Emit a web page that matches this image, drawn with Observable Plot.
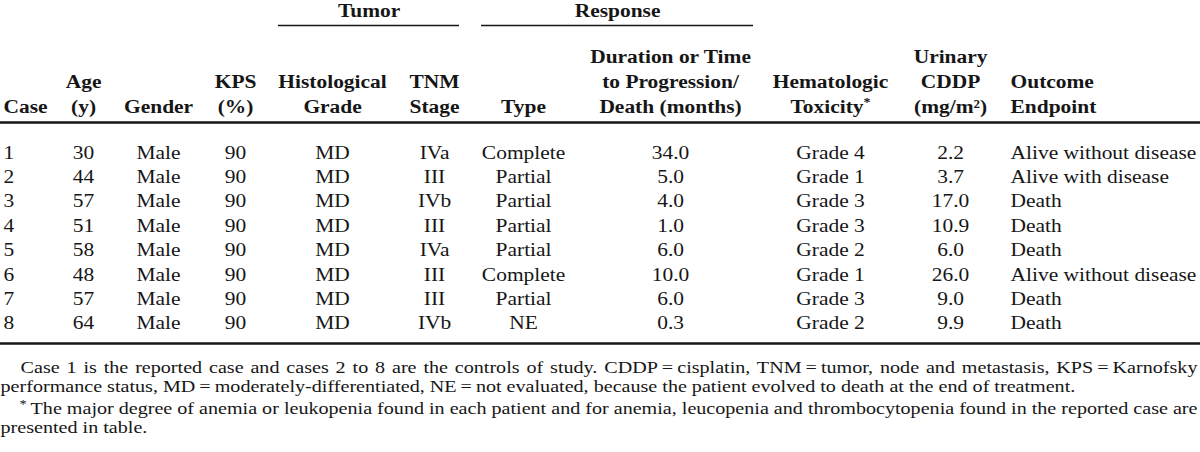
<!DOCTYPE html>
<html>
<head>
<meta charset="utf-8">
<script src="https://cdn.jsdelivr.net/npm/d3@7"></script>
<script src="https://cdn.jsdelivr.net/npm/@observablehq/plot@0.6"></script>
<style>
  html, body { margin: 0; padding: 0; background: #fff; }
  #chart svg { display: block; }
</style>
</head>
<body>
<div id="chart"></div>
<script>
// ---------- data ----------
const cases = ["1", "2", "3", "4", "5", "6", "7", "8"];
const ages = [30, 44, 57, 51, 58, 48, 57, 64];
const genders = ["Male", "Male", "Male", "Male", "Male", "Male", "Male", "Male"];
const kps = [90, 90, 90, 90, 90, 90, 90, 90];
const histologicalGrades = ["MD", "MD", "MD", "MD", "MD", "MD", "MD", "MD"];
const tnmStages = ["IVa", "III", "IVb", "III", "IVa", "III", "III", "IVb"];
const responseTypes = ["Complete", "Partial", "Partial", "Partial", "Partial", "Complete", "Partial", "NE"];
const durations = [34.0, 5.0, 4.0, 1.0, 6.0, 10.0, 6.0, 0.3];
const toxicities = ["Grade 4", "Grade 1", "Grade 3", "Grade 3", "Grade 2", "Grade 1", "Grade 3", "Grade 2"];
const urinaryCddp = [2.2, 3.7, 17.0, 10.9, 6.0, 26.0, 9.0, 9.9];
const outcomes = ["Alive without disease", "Alive with disease", "Death", "Death", "Death",
                  "Alive without disease", "Death", "Death"];

const headerLabels = ["Case", "Age\n(y)", "Gender", "KPS\n(%)", "Histological\nGrade", "TNM\nStage", "Type",
  "Duration or Time\nto Progression/\nDeath (months)", "Hematologic\nToxicity", "Urinary\nCDDP\n(mg/m²)",
  "Outcome\nEndpoint"];
const groupLabels = ["Tumor", "Response"];

const footLines = [
  "Case 1 is the reported case and cases 2 to 8 are the controls of study. CDDP\u2009=\u2009cisplatin, TNM\u2009=\u2009tumor, node and metastasis, KPS\u2009=\u2009Karnofsky",
  "performance status, MD\u2009=\u2009moderately-differentiated, NE\u2009=\u2009not evaluated, because the patient evolved to death at the end of treatment.",
  "The major degree of anemia or leukopenia found in each patient and for anemia, leucopenia and thrombocytopenia found in the reported case are",
  "presented in table."
];

// ---------- layout (reference pixel coordinates) ----------
const W = 1200, H = 452;
const stretch = 1.1;                 // horizontal glyph stretch of the reference
const colX = [3, 83, 158, 235, 332, 434, 523, 670, 830, 950, 1010];
const colAnchor = ["start", "middle", "middle", "middle", "middle", "middle", "middle", "middle", "middle", "middle", "start"];
const groupSpans = [[278, 459], [481, 753]];
const groupLabelY = 16, groupRuleY = 25;
const headerBaseY = 112, headerLine = 25, headerRuleY = 122;
const row0Y = 158, rowStep = 24.4, bottomRuleY = 343;
const footY = [372, 391, 413, 432];
const footX = [20, 0, 30, 0];
const footEnd = [1197, null, 1197, null];
const bodySize = 19.5, footSize = 17.5;
const ink = "#161616";

const fmt1 = d3.format(".1f");
const columnValues = [cases, ages, genders, kps, histologicalGrades, tnmStages, responseTypes,
  durations.map(fmt1), toxicities, urinaryCddp.map(fmt1), outcomes];

const headers = headerLabels.map((label, j) => ({label, x: colX[j], y: headerBaseY, anchor: colAnchor[j]}));
const cells = [];
columnValues.forEach((vals, j) => vals.forEach((v, i) =>
  cells.push({text: String(v), x: colX[j], y: row0Y + i * rowStep, anchor: colAnchor[j]})));
const groups = groupLabels.map((label, k) => ({
  label, x1: groupSpans[k][0], x2: groupSpans[k][1], cx: (groupSpans[k][0] + groupSpans[k][1]) / 2
}));
const foot = footLines.map((t, i) => ({text: t, x: footX[i], y: footY[i]}));

const byAnchor = (arr, a) => arr.filter(d => d.anchor === a);

const svg = Plot.plot({
  width: Math.round(W / stretch),
  height: H,
  margin: 0,
  x: {domain: [0, W], axis: null},
  y: {domain: [0, H], range: [0, H], axis: null},
  style: {fontFamily: "'Liberation Serif', 'Times New Roman', serif", background: "#fff", color: ink, overflow: "visible"},
  marks: [
    // group headers + spanning rules
    Plot.text(groups, {x: "cx", y: groupLabelY, text: "label", lineAnchor: "bottom",
      fontWeight: "bold", fontSize: bodySize, fill: ink}),
    Plot.ruleY(groups, {y: groupRuleY, x1: "x1", x2: "x2", stroke: ink, strokeWidth: 1.3}),
    // column headers
    Plot.text(byAnchor(headers, "middle"), {x: "x", y: "y", text: "label", textAnchor: "middle",
      lineAnchor: "bottom", lineHeight: headerLine / bodySize, fontWeight: "bold", fontSize: bodySize, fill: ink}),
    Plot.text(byAnchor(headers, "start"), {x: "x", y: "y", text: "label", textAnchor: "start",
      lineAnchor: "bottom", lineHeight: headerLine / bodySize, fontWeight: "bold", fontSize: bodySize, fill: ink}),
    Plot.ruleY([headerRuleY], {stroke: ink, strokeWidth: 2.3}),
    // body cells
    Plot.text(byAnchor(cells, "middle"), {x: "x", y: "y", text: "text", textAnchor: "middle",
      lineAnchor: "bottom", fontSize: bodySize, fill: ink}),
    Plot.text(byAnchor(cells, "start"), {x: "x", y: "y", text: "text", textAnchor: "start",
      lineAnchor: "bottom", fontSize: bodySize, fill: ink}),
    Plot.ruleY([bottomRuleY], {stroke: ink, strokeWidth: 2.3}),
    // footnotes
    Plot.text(foot, {x: "x", y: "y", text: "text", textAnchor: "start", lineAnchor: "bottom",
      fontSize: footSize, fill: ink}),
    Plot.text(["*"], {x: footX[2] - 11, y: footY[2] - 6, text: d => d, textAnchor: "start",
      lineAnchor: "bottom", fontSize: 13, fill: ink})
  ]
});

document.getElementById("chart").append(svg);
svg.setAttribute("width", W);
svg.setAttribute("height", H);
svg.setAttribute("preserveAspectRatio", "none");
svg.style.width = W + "px";
svg.style.height = H + "px";
svg.style.maxWidth = "none";

// superscript asterisk after "Toxicity"
d3.select(svg).selectAll("tspan").filter(function () { return this.textContent === "Toxicity"; })
  .append("tspan").attr("dy", "-0.5em").attr("font-size", "0.65em").text("*");

// footnotes: glyph widening taken from the third (full, tightly set) line,
// then the first line is justified with extra word spacing
const footTexts = [];
d3.select(svg).selectAll("text").each(function () {
  const idx = footLines.indexOf(this.textContent);
  if (idx >= 0) footTexts[idx] = this;
});
const naturals = footTexts.map(t => t.getComputedTextLength());
const k = ((footEnd[2] - footX[2]) / stretch) / naturals[2];
footTexts.forEach((t, idx) => {
  let len = naturals[idx] * k;
  if (footEnd[idx] != null) {
    const target = (footEnd[idx] - footX[idx]) / stretch;
    const spaces = (footLines[idx].match(/ /g) || []).length;
    const ws = (target / k - naturals[idx]) / spaces;
    if (ws > 0) t.style.wordSpacing = ws + "px";
    len = target;
  }
  t.setAttribute("textLength", len);
  t.setAttribute("lengthAdjust", "spacingAndGlyphs");
});
</script>
</body>
</html>
